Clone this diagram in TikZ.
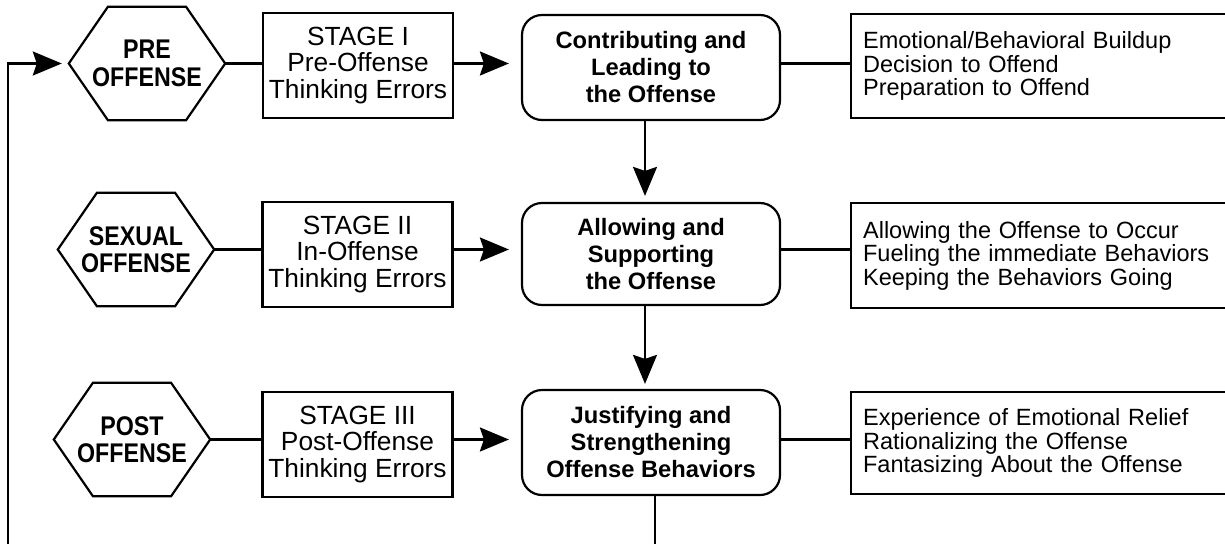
\documentclass[tikz,border=0pt]{standalone}
\usepackage{fontspec}
\setmainfont{Liberation Sans}
\newfontfamily\hexfont[FakeStretch=0.86]{Liberation Sans}
\usetikzlibrary{arrows.meta,calc}

\begin{document}
\begin{tikzpicture}[x=1pt,y=-1pt,
  line/.style={line width=2.4pt},
  arr/.style={line, -{Stealth[length=29pt,width=24pt,inset=4pt]}},
  hexbox/.style={minimum width=156pt, minimum height=113pt, inner sep=0pt,
    align=center, font=\hexfont\fontsize{27}{27.5}\selectfont\bfseries},
  stagebox/.style={draw, line width=2.2pt, minimum width=190pt, minimum height=105pt,
    inner sep=0pt, align=center, font=\fontsize{26.3}{26.5}\selectfont},
  roundbox/.style={draw, line width=2.2pt, rounded corners=20pt, minimum width=258pt,
    inner sep=0pt, align=center, font=\fontsize{23.7}{27}\selectfont\bfseries},
  listbox/.style={draw, line width=2.2pt, anchor=west, text width=380pt,
    inner xsep=12pt, inner ysep=0pt, align=left, font=\fontsize{23.5}{23.5}\selectfont}
]
\useasboundingbox (0,0) rectangle (1225,543);
\clip (0,0) rectangle (1225,543);

% phases (hexagons)
\node[hexbox] (pre)  at (147,63.5)  {PRE\\OFFENSE};
\node[hexbox] (sex)  at (136,249.5) {SEXUAL\\OFFENSE};
\node[hexbox] (post) at (132,439.5) {POST\\OFFENSE};
\foreach \h in {pre,sex,post}
  \draw[line width=2.2pt, line join=miter] (\h.west)
    -- ($(\h.north west)!.25!(\h.north east)$)
    -- ($(\h.north west)!.75!(\h.north east)$)
    -- (\h.east)
    -- ($(\h.south west)!.75!(\h.south east)$)
    -- ($(\h.south west)!.25!(\h.south east)$)
    -- cycle;

% thinking-error stages
\node[stagebox] (s1) at (358,65.5)  {STAGE I\\Pre-Offense\\Thinking Errors};
\node[stagebox] (s2) at (357.5,254.5) {STAGE II\\In-Offense\\Thinking Errors};
\node[stagebox] (s3) at (357.5,444.5) {STAGE III\\Post-Offense\\Thinking Errors};

% offense cycle steps
\node[roundbox, minimum height=105pt] (c1) at (651,67.5)  {Contributing and\\Leading to\\the Offense};
\node[roundbox, minimum height=102pt] (c2) at (651,254)   {Allowing and\\Supporting\\the Offense};
\node[roundbox, minimum height=105pt] (c3) at (651,442.5) {Justifying and\\Strengthening\\Offense Behaviors};

% behaviour lists
\node[listbox, minimum height=104pt] (r1) at (850,66)
  {Emotional/Behavioral Buildup\\Decision to Offend\\Preparation to Offend};
\node[listbox, minimum height=105pt] (r2) at (850,255.5)
  {Allowing the Offense to Occur\\Fueling the immediate Behaviors\\Keeping the Behaviors Going};
\node[listbox, minimum height=102pt] (r3) at (850,443)
  {Experience of Emotional Relief\\Rationalizing the Offense\\Fantasizing About the Offense};

% row connectors
\foreach \h/\s/\c/\r in {pre/s1/c1/r1, sex/s2/c2/r2, post/s3/c3/r3}{
  \draw[line] (\h.east) -- (\h.east -| \s.west);
  \draw[arr, shorten >=12pt] (\s.east |- \h.east) -- (\c.west |- \h.east);
  \draw[line] (\c.east |- \h.east) -- (\r.west |- \h.east);
}

% downward flow
\draw[arr, shorten >=6pt] ([xshift=-6pt]c1.south) -- ([xshift=-6pt]c2.north);
\draw[arr, shorten >=5pt] ([xshift=-6pt]c2.south) -- ([xshift=-6pt]c3.north);

% return loop
\coordinate (outbot)  at (655,550);
\coordinate (loopbot) at (8,550);
\draw[line] ([xshift=4pt]c3.south) -- (outbot);
\draw[arr, shorten >=7pt] (loopbot) |- (pre.west);
\end{tikzpicture}
\end{document}
